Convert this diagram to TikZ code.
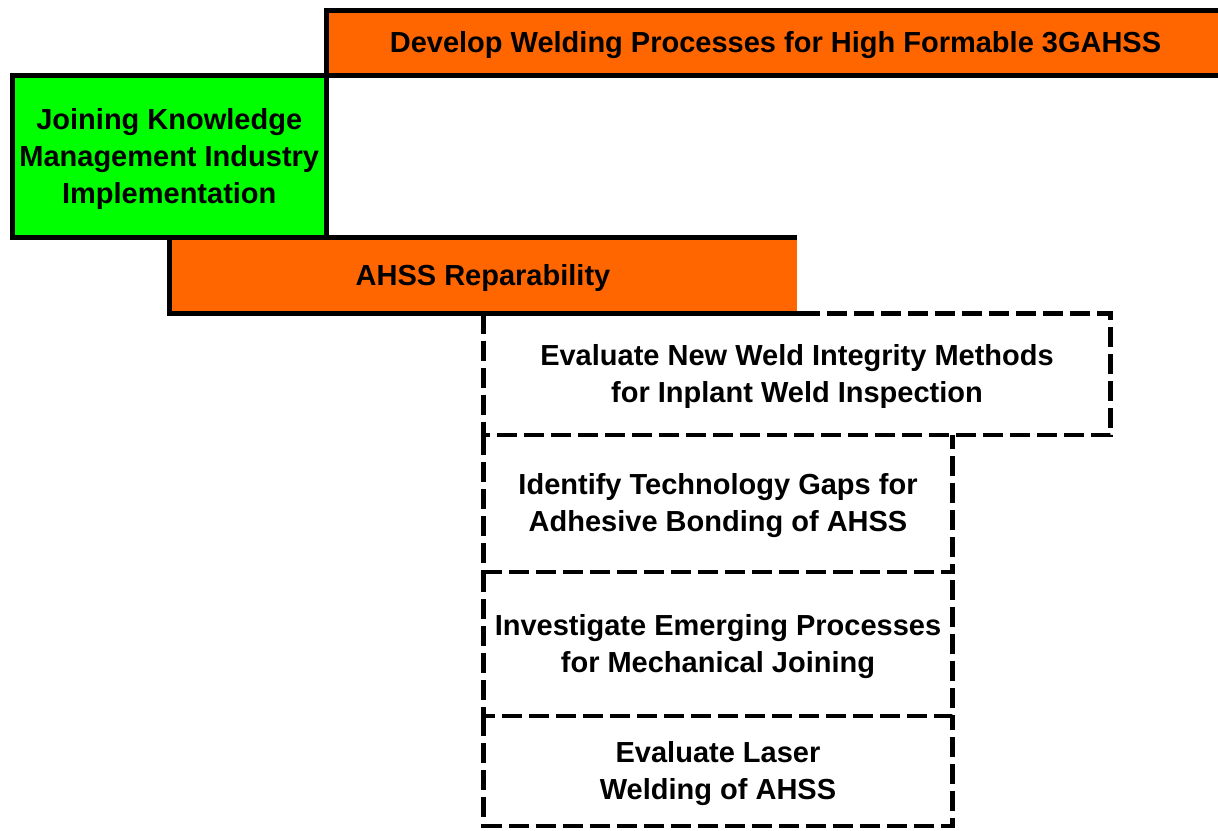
\documentclass[tikz,border=0pt]{standalone}
\usepackage{fontspec}
\setmainfont{Liberation Sans}
\definecolor{orng}{HTML}{FF6600}
\definecolor{grn}{HTML}{00FF00}
\begin{document}
\begin{tikzpicture}[x=1pt,y=-1pt,
  box/.style={rectangle, anchor=north west, inner sep=0pt, outer sep=0pt},
  lbl/.style={inner sep=0pt, font=\fontsize{29}{37}\selectfont\bfseries, align=center},
  solidline/.style={line width=5pt},
  dashline/.style={line width=4.6pt, dash pattern=on 20pt off 7pt}]
\useasboundingbox (0,0) rectangle (1218,830);
\clip (0,0) rectangle (1218,830);
% green box
\node[box, fill=grn, draw, solidline, minimum width=313.5pt, minimum height=162pt] (jk) at (12.5,75) {};
\node[lbl] (jkt) at ([yshift=-2.5pt]jk.center) {Joining Knowledge\\Management Industry\\Implementation};
% top orange box
\node[box, fill=orng, draw, solidline, minimum width=899pt, minimum height=65pt] (dev) at (326,10) {};
\node[lbl] (devt) at ([yshift=-2.5pt]dev.center) {Develop Welding Processes for High Formable 3GAHSS};
% AHSS reparability
\node[box, fill=orng, minimum width=628pt, minimum height=76.5pt] (rep) at (169,237) {};
\node[lbl] (rept) at ([yshift=-2.5pt]rep.center) {AHSS Reparability};
\draw[solidline] (rep.north east) -- (rep.north west) -- (rep.south west) -- ([xshift=3pt]rep.south east);
% dashed boxes
\node[box, minimum width=627pt, minimum height=121.5pt] (ev) at (483.5,313.5) {};
\node[lbl] (evt) at ([yshift=-2.5pt]ev.center) {Evaluate New Weld Integrity Methods\\for Inplant Weld Inspection};
\node[box, minimum width=469pt, minimum height=137pt] (idt) at (483.5,435) {};
\node[lbl] (idtt) at ([yshift=-2.5pt]idt.center) {Identify Technology Gaps for\\Adhesive Bonding of AHSS};
\node[box, minimum width=469pt, minimum height=144pt] (inv) at (483.5,572) {};
\node[lbl] (invt) at ([yshift=-2.5pt]inv.center) {Investigate Emerging Processes\\for Mechanical Joining};
\node[box, minimum width=469pt, minimum height=110pt] (las) at (483.5,716) {};
\node[lbl] (last) at ([yshift=-2.5pt]las.center) {Evaluate Laser\\Welding of AHSS};
\draw[dashline] (ev.north west) rectangle (ev.south east);
\draw[dashline] (idt.north west) -- (idt.south west) -- (idt.south east) -- (idt.north east);
\draw[dashline] (inv.north west) -- (inv.south west) -- (inv.south east) -- (inv.north east);
\draw[dashline] (las.north west) -- (las.south west) -- (las.south east) -- (las.north east);
\end{tikzpicture}
\end{document}
